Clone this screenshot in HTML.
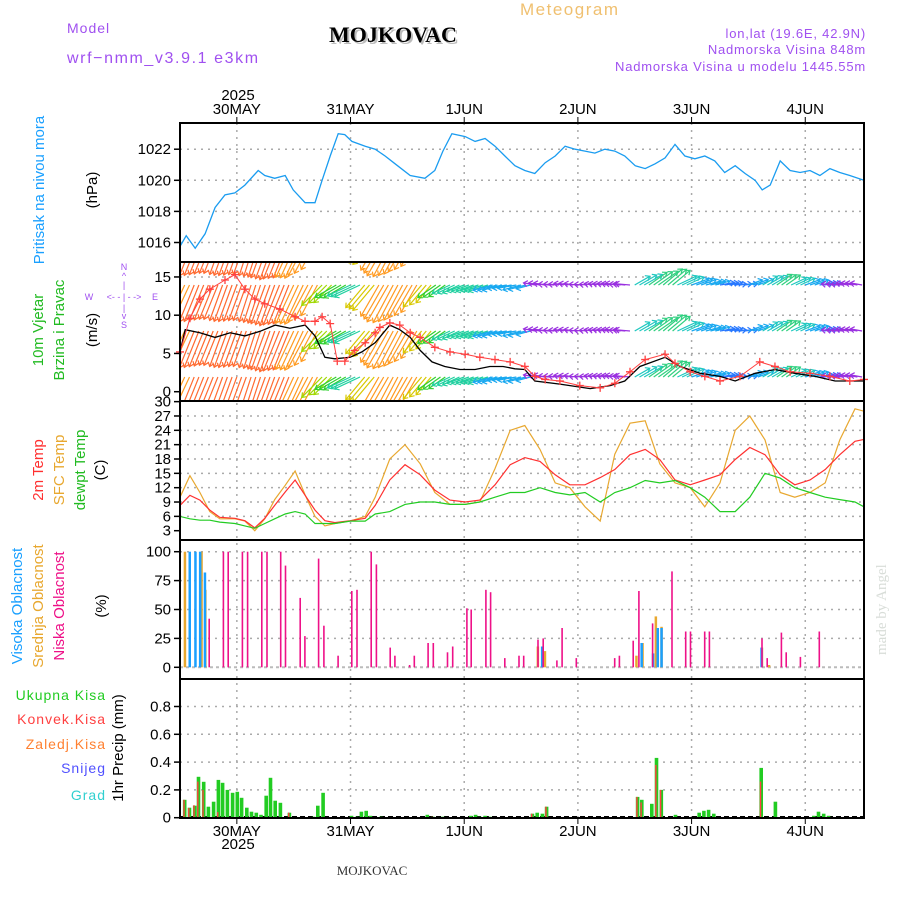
<!DOCTYPE html>
<html><head><meta charset="utf-8"><style>
html,body{margin:0;padding:0;background:#fff;}
svg{display:block;font-family:"Liberation Sans",sans-serif;}
</style></head><body>
<svg id="c" width="900" height="900" viewBox="0 0 900 900" xmlns="http://www.w3.org/2000/svg">
<defs>
<clipPath id="cpP"><rect x="180" y="123" width="684" height="139"/></clipPath>
<clipPath id="cpW"><rect x="181" y="263" width="682" height="137"/></clipPath>
<clipPath id="cpT"><rect x="180" y="401" width="684" height="139"/></clipPath>
</defs>
<text x="520" y="15" font-size="17" fill="#f0c070" letter-spacing="1.5">Meteogram</text>
<text x="67" y="33" font-size="14" fill="#a050f0" letter-spacing="1">Model</text>
<text x="67" y="63" font-size="16" fill="#a050f0" letter-spacing="1.6">wrf−nmm_v3.9.1 e3km</text>
<text x="331" y="44" font-size="22" font-weight="bold" fill="#bcbcbc" font-family="Liberation Serif,serif">MOJKOVAC</text>
<text x="329" y="42" font-size="22" font-weight="bold" fill="#000" font-family="Liberation Serif,serif">MOJKOVAC</text>
<text x="866" y="38" font-size="13" fill="#a050f0" text-anchor="end" letter-spacing="0.8">lon,lat (19.6E, 42.9N)</text>
<text x="866" y="54" font-size="13" fill="#a050f0" text-anchor="end" letter-spacing="0.8">Nadmorska Visina 848m</text>
<text x="866" y="71" font-size="13" fill="#a050f0" text-anchor="end" letter-spacing="0.8">Nadmorska Visina u modelu 1445.55m</text>
<text x="238" y="100" font-size="15" text-anchor="middle">2025</text>
<text x="238" y="849" font-size="15" text-anchor="middle">2025</text>
<text x="372" y="875" font-size="13" text-anchor="middle" fill="#333" font-family="Liberation Serif,serif">MOJKOVAC</text>
<text transform="translate(886,655) rotate(-90)" font-size="15" fill="#d8ddd8" font-family="Liberation Serif,serif">made by Angel</text>

<g font-size="15" fill="#1aa0ff"><text transform="translate(44,190) rotate(-90)" text-anchor="middle">Pritisak na nivou mora</text></g>
<text transform="translate(97,190) rotate(-90)" text-anchor="middle" font-size="15">(hPa)</text>
<text transform="translate(43,330) rotate(-90)" text-anchor="middle" font-size="15" fill="#22bb22">10m Vjetar</text>
<text transform="translate(64,330) rotate(-90)" text-anchor="middle" font-size="15" fill="#22bb22">Brzina i Pravac</text>
<text transform="translate(97,330) rotate(-90)" text-anchor="middle" font-size="15">(m/s)</text>
<g fill="#a050f0" font-size="9" text-anchor="middle">
<text x="124" y="270">N</text><text x="124" y="279">^</text><text x="124" y="288">|</text>
<text x="89" y="300">W</text><text x="124" y="300">&lt;- - | - -&gt;</text><text x="155" y="300">E</text>
<text x="124" y="311">|</text><text x="124" y="319">v</text><text x="124" y="328">S</text></g>
<text transform="translate(43,470) rotate(-90)" text-anchor="middle" font-size="15" fill="#ff3030">2m Temp</text>
<text transform="translate(64,470) rotate(-90)" text-anchor="middle" font-size="15" fill="#e8a830">SFC Temp</text>
<text transform="translate(85,470) rotate(-90)" text-anchor="middle" font-size="15" fill="#22bb22">dewpt Temp</text>
<text transform="translate(105,470) rotate(-90)" text-anchor="middle" font-size="15">(C)</text>
<text transform="translate(22,606) rotate(-90)" text-anchor="middle" font-size="15" fill="#1aa0ff">Visoka Oblacnost</text>
<text transform="translate(43,606) rotate(-90)" text-anchor="middle" font-size="15" fill="#e8a830">Srednja Oblacnost</text>
<text transform="translate(64,606) rotate(-90)" text-anchor="middle" font-size="15" fill="#ee1188">Niska Oblacnost</text>
<text transform="translate(106,606) rotate(-90)" text-anchor="middle" font-size="15">(%)</text>
<g font-size="14" text-anchor="end" letter-spacing="1">
<text x="106" y="700" fill="#22cc22">Ukupna  Kisa</text>
<text x="106" y="724" fill="#ff4040">Konvek.Kisa</text>
<text x="106" y="749" fill="#ff8030">Zaledj.Kisa</text>
<text x="106" y="773" fill="#5050ff">Snijeg</text>
<text x="106" y="800" fill="#30d0d0">Grad</text></g>
<text transform="translate(123,748) rotate(-90)" text-anchor="middle" font-size="15">1hr Precip (mm)</text>
<g id="plot"></g>
</svg>
<script>
const dayLabels=['30MAY','31MAY','1JUN','2JUN','3JUN','4JUN'];
const dayHours=[12,36,60,84,108,132];
const presHours=[0,1.3,3.2,5.3,7.4,9.5,11.6,13.7,16.5,17.9,20,22.2,23.9,26.4,28.5,30,31.7,33.4,34.8,36.3,39.1,41.2,43.3,45.4,48.6,51.7,53.8,55.5,57.4,60.2,62.3,64.4,66.5,68.6,70.7,72.8,74.9,77.1,79.2,81.3,83.4,85.5,87.6,89.7,91.8,93.9,96.1,98.2,100.3,102.4,104.5,106.6,108.7,110.8,112.9,115,117.2,119.3,121.4,122.9,124.6,126.7,128.8,130.9,133,135.1,137.2,139.3,141.4,144.4];
const presVals=[1015.75,1016.44,1015.63,1016.56,1018.25,1019.06,1019.19,1019.69,1020.63,1020.31,1020.13,1020.31,1019.38,1018.56,1018.56,1020,1021.56,1023,1022.94,1022.5,1022.19,1022,1021.56,1021.06,1020.31,1020.13,1020.63,1021.88,1023,1022.81,1022.5,1022.69,1022.19,1021.56,1020.94,1020.63,1020.44,1021.13,1021.56,1022.19,1022,1021.88,1021.75,1022,1021.88,1021.56,1020.94,1020.75,1021.06,1021.44,1022.31,1021.56,1021.38,1021.56,1021.25,1020.5,1020.94,1020.44,1020,1019.38,1019.69,1021.25,1020.63,1020.5,1020.63,1020.31,1020.75,1020.5,1020.31,1020];
const presTicks=[1016,1018,1020,1022];
const windHours=[0,1.1,4.2,7.4,10.6,13.7,16.9,20.1,23.2,26.4,28.5,30.6,32.7,35.9,38.4,41.2,44.3,46.4,48.6,50.7,53.2,55.9,59.1,62.3,65.4,68.2,70.7,72.8,74.9,80.2,86.6,90.8,93.9,97.1,102.4,105.6,109.8,114,117.2,121.4,125.6,129.8,134.1,138.3,144.4];
const windSpd=[5.2,8.1,7.7,7.1,7.7,7.3,7.9,8.7,8.3,8.7,7.3,4.5,4.3,4.5,5.2,6.4,8.7,8.1,7.1,5.4,3.9,3.3,2.9,2.9,3.3,3.3,3,2.9,1.4,1,0.4,0.8,1.4,3.3,4.5,3.3,2.4,2,1.4,2.4,2.9,2.4,2,1.4,1.4];
const gustHours=[0,2.1,4.2,6.3,9.5,11.6,13.7,15.8,17.9,21.1,24.3,26.4,28.5,30,31.7,33.2,34.8,36.9,39.1,41.2,42.2,44.3,46.4,48.6,50.7,53.8,57,60.2,63.3,66.5,69.7,72.8,74.9,77.1,80.2,84.4,88.7,91.8,95,98.2,102.4,104.5,107.7,110.8,114,118.2,122.4,125.6,128.8,133,137.2,141.4,144.4];
const gustVals=[5.2,9.6,12.1,13.4,14.6,15.3,13.4,12.1,11.5,10.8,9.8,9.2,9.2,9.8,8.9,4,4,5.4,6.4,7.7,8.4,9.0,8.7,7.7,7.1,5.8,5.2,4.9,4.5,4.2,3.9,3.3,2,1.6,1.4,0.8,0.5,1.1,2.6,4.2,4.9,3.7,2.6,2,1.4,2,3.9,3.3,2.6,2.4,2,1.4,1.6];
const windDir=[25,22,22,20,20,18,20,22,25,28,45,60,65,40,30,28,30,40,55,65,70,72,75,80,75,100,95,100,95,100,100,95,240,235,230,245,250,255,260,265,250,240,235,245,250,260,95,100,100];
const windTicks=[0,5,10,15];
const tempHours=[0,2.1,4.2,6.3,8.4,11.6,13.7,15.8,17.9,20,22.2,24.3,26.4,28.5,30.6,32.7,35.9,39.1,41.2,44.3,47.5,50.7,53.8,57,60.2,63.3,66.5,69.7,72.8,76,79.2,82.3,85.5,88.7,91.8,95,98.2,101.3,104.5,107.7,110.8,114,117.2,120.3,123.5,126.7,129.8,133,136.2,139.3,142.5,144.4];
const temp2m=[8.3,10.4,9.4,7.3,5.8,5.6,5.1,3.6,5.6,8.3,11.1,13.6,10.4,7.3,5.1,4.7,5.1,5.6,8.3,13.6,16.8,14.7,11.5,9.4,9,9.4,12.6,16.8,18.3,17.5,14.7,12.6,12.6,14.1,15.8,18.9,20,17.9,13.6,12.6,13.6,14.7,17.9,20.4,18.9,14.7,12.6,13.6,15.8,18.9,21.7,22.1];
const tempSfc=[10,14.5,11,7,5.5,5.5,5,3,5.5,9.5,12.5,15.5,10.5,6,4,4.5,5,6,10,18,21,17,11,8.5,8.5,9,16,24,25,20,13,12,8,5,19,25.5,26,17,13,12,8,13,24,27,22,11,10,11,13,22,28.5,28];
const tempDew=[6,5.5,5.2,5.2,4.8,4.5,4,3.5,4.5,5.5,6.5,7,6.5,4.5,4.5,4.5,5,5,6.5,7,8.5,9,9,8.5,8.5,9,10,11,11,12,11,10.5,11,9,11,12,13.5,13,13.5,12,10,7,7,10,15,14,12,11,10,9.5,9,8];
const tempTicks=[3,6,9,12,15,18,21,24,27,30];
const lowCloudHours=[6.0,9.0,10.0,13.0,14.1,17.1,18.2,21.1,22.1,25.2,26.2,29.1,30.2,33.2,36.1,37.2,40.2,41.3,44.2,45.2,48.3,49.3,52.2,53.3,56.3,57.4,60.4,61.3,64.4,65.4,68.4,71.4,72.4,75.4,76.5,79.4,80.5,83.5,91.6,92.6,95.5,96.7,99.6,103.7,106.6,107.6,110.6,111.6,122.7,123.8,126.8,127.8,130.8,134.8];
const lowCloud=[42,100,100,100,100,100,100,100,88,60,27,94,36,10,66,67,100,89,17,10,2,10,21,21,13,18,51,50,67,65,8,10,10,24,25,6,34,8,8,10,23,66,38,83,31,31,31,31,25,8,30,13,9,31];
const highCloudHours=[1.8,3.0,4.0,5.0,76.2,97.2,99.6,100.6,101.4,122.5];
const highCloud=[100,100,100,82,18,21,12,34,34,17];
const midCloudHours=[1.0,4.5,5.3,75.5,77.0,96.3,97.6,100.4,101.6,122.8,124.3];
const midCloud=[100,100,67,18,14,10,21,44,35,17,2];
const cloudTicks=[0,25,50,75,100];
const rainHours=[1.0,2.0,3.1,3.9,5.0,6.0,7.1,8.1,9.0,10.0,11.1,12.1,13.0,14.1,15.1,16.1,17.1,18.2,19.1,20.1,21.2,23.1,28.2,29.1,30.2,36.2,37.3,38.3,39.3,40.2,42.4,52.2,53.4,55.5,61.4,62.4,63.3,64.4,65.4,74.4,75.4,76.5,77.4,96.6,97.5,99.6,100.6,101.6,104.6,109.6,110.6,111.6,112.7,122.7,125.7,133.8,134.8,135.9,136.9];
const rainTotal=[.129,.072,.086,.294,.258,.079,.115,.272,.251,.2,.179,.186,.143,.072,.043,.036,.021,.158,.287,.122,.107,.036,.007,.086,.179,.014,.007,.043,.05,.014,.007,.021,.007,.007,.014,.021,.007,.014,.007,.029,.036,.029,.079,.15,.129,.1,.43,.2,.021,.036,.05,.057,.029,.358,.115,.014,.043,.029,.014];
const rainConv=[.129,.07,.09,.26,.2,0,0,.04,0,0,0,0,0,0,0,0,0,0,0,0,0,.036,0,0,0,0,0,0,0,0,0,0,.007,0,0,0,0,0,0,.029,0,0,.079,.15,.11,0,.38,.2,0,0,0,0,0,.26,0,0,0,0,0];
const precipTicks=[0,0.2,0.4,0.6,0.8];

const NS='http://www.w3.org/2000/svg';
const plot=document.getElementById('plot');
const X0=180,X1=864,HMAX=144.4;
const xs=h=>X0+h*(X1-X0)/HMAX;
const yP=p=>180.3-(p-1020)*15.55;
const yW=s=>391.7-s*7.65;
const yT=t=>530.7-(t-3)*4.78;
const yC=c=>667.3-c*1.156;
const yR=r=>817.7-r*139;
function mk(tag,attrs,parent){const e=document.createElementNS(NS,tag);for(const k in attrs)e.setAttribute(k,attrs[k]);(parent||plot).appendChild(e);return e;}
const panels=[[123,262],[262,401],[401,540],[540,679],[679,818]];
// grids
dayHours.forEach((h,i)=>{
  const g=mk('line',{x1:xs(h),x2:xs(h),y1:123,y2:818,stroke:'#aaa','stroke-width':1.5,'stroke-dasharray':'2,5'});
  
  
  const t=mk('text',{x:xs(h),y:114,'font-size':15,'text-anchor':'middle'});t.textContent=dayLabels[i];
  
  
  const b=mk('text',{x:xs(h),y:836,'font-size':15,'text-anchor':'middle'});b.textContent=dayLabels[i];
  
  
  mk('line',{x1:xs(h),x2:xs(h),y1:117,y2:123,stroke:'#000'});
  mk('line',{x1:xs(h),x2:xs(h),y1:818,y2:824,stroke:'#000'});
});
function yaxis(ticks,fy,fmt,gridSkip){
  ticks.forEach(v=>{
    const y=fy(v);
    if(!gridSkip||!gridSkip(v)){const gl=mk('line',{x1:X0,x2:X1,y1:y,y2:y,stroke:'#aaa','stroke-width':1.5,'stroke-dasharray':'2,5'});
    
    }
    mk('line',{x1:X0-6,x2:X0,y1:y,y2:y,stroke:'#000','stroke-width':1.5});
    const t=mk('text',{x:X0-9,y:y+5,'font-size':15,'text-anchor':'end'});t.textContent=fmt(v);
    
    
  });
}
yaxis(presTicks,yP,v=>v);
yaxis(windTicks,yW,v=>v,v=>v==0);
yaxis(tempTicks,yT,v=>v,v=>v==3||v==30);
yaxis(cloudTicks,yC,v=>v,v=>v==0);
yaxis(precipTicks,yR,v=>v==0?'0':v.toFixed(1),v=>v==0);
function line(hs,vs,fy,col,w,clip,name){
  const d=hs.map((h,i)=>(i?'L':'M')+xs(h).toFixed(1)+','+fy(vs[i]).toFixed(1)).join('');
  const p=mk('path',{d:d,fill:'none',stroke:col,'stroke-width':w,'clip-path':clip});
  
  
  return p;
}
line(presHours,presVals,yP,'#1a9cf0',1.3,'url(#cpP)','pressure-line');
// wind barbs
function dirColor(d){
  if(d<=15)return'#ff3c3c';if(d<=24)return'#ff6a30';if(d<=32)return'#ff9a20';if(d<=42)return'#d8c800';
  if(d<=52)return'#a0d800';if(d<=62)return'#30d030';if(d<=72)return'#20d0a0';if(d<=82)return'#18a8f0';
  if(d<=90)return'#3050ff';if(d<=180)return'#9a30e0';if(d<=235)return'#30d080';if(d<=245)return'#20c8c0';
  if(d<=255)return'#18a8f0';return'#2878ff';
}
function spdAt(h){for(let i=1;i<windHours.length;i++){if(h<=windHours[i]){const f=(h-windHours[i-1])/(windHours[i]-windHours[i-1]);return windSpd[i-1]+f*(windSpd[i]-windSpd[i-1]);}}return windSpd[windSpd.length-1];}
const barbs=mk('g',{'clip-path':'url(#cpW)'});


const rows=[239,285,331,377];
windDir.forEach((d,i)=>{
  for(let k=0;k<3;k++){
    const h=i*3+k;if(h>HMAX)continue;
    const L=6+spdAt(h)*4.3,r=d*Math.PI/180;
    const dx=-Math.sin(r)*L,dy=Math.cos(r)*L,col=dirColor(d);
    rows.forEach(y0=>{
      const x0=xs(h),x1=x0+dx,y1=y0+dy;
      const a=mk('path',{d:`M${x0.toFixed(1)},${y0}L${x1.toFixed(1)},${y1.toFixed(1)}`,stroke:col,'stroke-width':1.2,fill:'none'},barbs);
      
      
      const ux=dx/L,uy=dy/L;
      mk('path',{d:`M${(x1-ux*4-uy*3).toFixed(1)},${(y1-uy*4+ux*3).toFixed(1)}L${x1.toFixed(1)},${y1.toFixed(1)}L${(x1-ux*4+uy*3).toFixed(1)},${(y1-uy*4-ux*3).toFixed(1)}`,stroke:col,'stroke-width':1.2,fill:'none'},barbs);
    });
  }
});
line(windHours,windSpd,yW,'#000',1.3,'url(#cpW)','wind-speed-line');
line(gustHours,gustVals,yW,'#ff4040',1,'url(#cpW)','wind-gust-line');
gustHours.forEach((h,i)=>{
  const x=xs(h),y=yW(gustVals[i]);
  const c=mk('path',{d:`M${x-4},${y}H${x+4}M${x},${y-4}V${y+4}`,stroke:'#ff4040','stroke-width':1.3});
  
  
});
line(tempHours,tempSfc,yT,'#e8a830',1.2,'url(#cpT)','sfc-temp-line');
line(tempHours,temp2m,yT,'#ff3030',1.2,'url(#cpT)','temp-2m-line');
line(tempHours,tempDew,yT,'#22cc22',1.2,'url(#cpT)','dewpoint-line');
// clouds
mk('line',{x1:X0,x2:X1,y1:yC(0),y2:yC(0),stroke:'#bbb','stroke-width':2,'stroke-dasharray':'3,3'});
function bars(hs,vs,fy,col,w,off,name){
  hs.forEach((h,i)=>{if(vs[i]<=0)return;const y=fy(vs[i]),y0=fy(0);
    const r=mk('rect',{x:(xs(h)+off).toFixed(1),y:y.toFixed(1),width:w,height:(y0-y).toFixed(1),fill:col});
    
    });
}
bars(midCloudHours,midCloud,yC,'#e8a830',2.5,-1,'mid-cloud-bar');
bars(highCloudHours,highCloud,yC,'#1aa0ff',2.5,0,'high-cloud-bar');
bars(lowCloudHours,lowCloud,yC,'#ee1188',1.6,0,'low-cloud-bar');
// precip
mk('line',{x1:X0,x2:X1,y1:yR(0)-1,y2:yR(0)-1,stroke:'#000','stroke-width':1.5,'stroke-dasharray':'5,3'});
bars(rainHours,rainTotal,yR,'#22cc22',3.6,-1.8,'total-rain-bar');
bars(rainHours,rainConv,yR,'#ff4040',1.4,-1.4,'convective-rain-bar');
// frames
panels.forEach(([a,b])=>{const r=mk('rect',{x:X0,y:a,width:X1-X0,height:b-a,fill:'none',stroke:'#000','stroke-width':2});
  
  });
</script>
</body></html>
